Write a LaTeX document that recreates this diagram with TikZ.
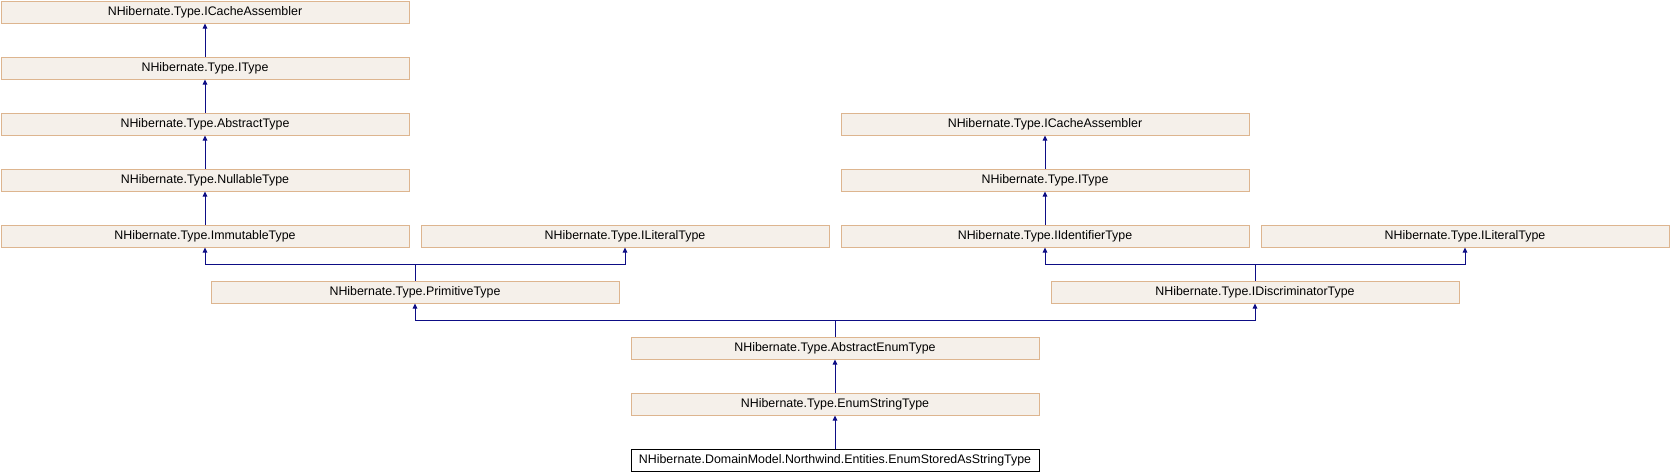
\documentclass[tikz,border=0pt]{standalone}
\usepackage{fontspec}
\setmainfont{Liberation Sans}
\usetikzlibrary{arrows.meta}
\definecolor{boxfill}{HTML}{F5F0EA}
\definecolor{boxdraw}{HTML}{DDB58F}
\definecolor{edgecol}{HTML}{0D0D85}
\tikzset{
  cls/.style={draw=boxdraw, fill=boxfill, line width=1pt, minimum width=408pt, minimum height=22pt,
    inner sep=0pt, anchor=north west, font=\fontsize{12.4pt}{14pt}\selectfont},
  main/.style={cls, draw=black, fill=white},
  edge/.style={draw=edgecol, line width=1pt, -{Triangle[length=5pt,width=4.5pt]}}
}
\begin{document}
\begin{tikzpicture}[x=1pt,y=-1pt]
\useasboundingbox (0,0) rectangle (1670,472);
% left column
\node[cls] (ica1) at (0.5,0.5) {NHibernate.Type.ICacheAssembler};
\node[cls] (it1) at (0.5,56.5) {NHibernate.Type.IType};
\node[cls] (abs) at (0.5,112.5) {NHibernate.Type.AbstractType};
\node[cls] (nul) at (0.5,168.5) {NHibernate.Type.NullableType};
\node[cls] (imm) at (0.5,224.5) {NHibernate.Type.ImmutableType};
\node[cls] (lit1) at (420.5,224.5) {NHibernate.Type.ILiteralType};
% right column
\node[cls] (ica2) at (840.5,112.5) {NHibernate.Type.ICacheAssembler};
\node[cls] (it2) at (840.5,168.5) {NHibernate.Type.IType};
\node[cls] (iid) at (840.5,224.5) {NHibernate.Type.IIdentifierType};
\node[cls] (lit2) at (1260.5,224.5) {NHibernate.Type.ILiteralType};
% middle
\node[cls] (prim) at (210.5,280.5) {NHibernate.Type.PrimitiveType};
\node[cls] (disc) at (1050.5,280.5) {NHibernate.Type.IDiscriminatorType};
\node[cls] (aenum) at (630.5,336.5) {NHibernate.Type.AbstractEnumType};
\node[cls] (estr) at (630.5,392.5) {NHibernate.Type.EnumStringType};
\node[main] (stored) at (630.5,448.5) {NHibernate.DomainModel.Northwind.Entities.EnumStoredAsStringType};
% junctions
\coordinate (j1) at (0,264.5);
\coordinate (j2) at (0,320.5);
% edges
\draw[edge] (it1) -- (ica1);
\draw[edge] (abs) -- (it1);
\draw[edge] (nul) -- (abs);
\draw[edge] (imm) -- (nul);
\draw[edge] (it2) -- (ica2);
\draw[edge] (iid) -- (it2);
\draw[edge] (prim.north) -- (prim.north |- j1) -| (imm.south);
\draw[edge] (prim.north) -- (prim.north |- j1) -| (lit1.south);
\draw[edge] (disc.north) -- (disc.north |- j1) -| (iid.south);
\draw[edge] (disc.north) -- (disc.north |- j1) -| (lit2.south);
\draw[edge] (aenum.north) -- (aenum.north |- j2) -| (prim.south);
\draw[edge] (aenum.north) -- (aenum.north |- j2) -| (disc.south);
\draw[edge] (estr) -- (aenum);
\draw[edge] (stored) -- (estr);
\end{tikzpicture}
\end{document}
